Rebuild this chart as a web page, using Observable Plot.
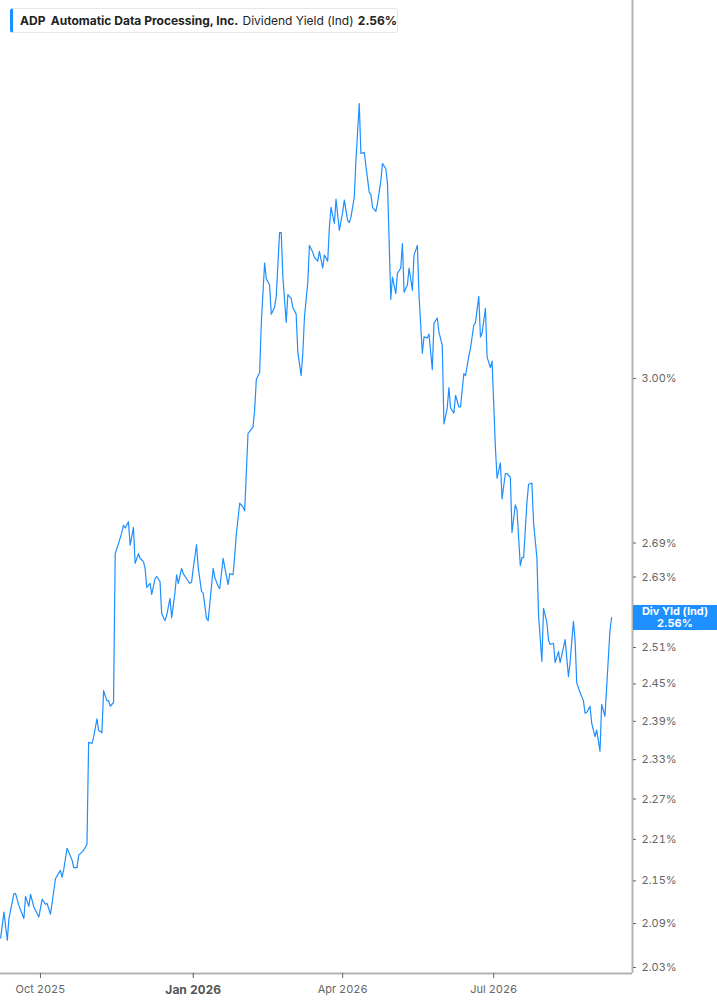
<!DOCTYPE html>
<html>
<head>
<meta charset="utf-8">
<script src="https://cdn.jsdelivr.net/npm/d3@7"></script>
<script src="https://cdn.jsdelivr.net/npm/@observablehq/plot@0.6"></script>
<style>
  html, body { margin: 0; padding: 0; background: #fff; }
  #wrap { position: relative; width: 717px; height: 1005px; overflow: hidden; font-family: Inter, "Noto Sans", sans-serif; }
  #legend { position: absolute; left: 10px; top: 8px; height: 25px; width: 388px; box-sizing: border-box;
    background: #fff; border: 1px solid #e6e6e6; border-left: 3px solid #1e8fff; border-radius: 3px;
    font-size: 12px; color: #222; display: flex; align-items: center; padding-left: 7px; white-space: nowrap; }
  #legend b { font-weight: 700; }
  #legend .gap { display: inline-block; width: 8px; }
  #legend .gap2 { display: inline-block; width: 10px; }
  #tag { position: absolute; left: 633px; width: 84px; height: 25px; background: #1e8fff; color: #fff;
    font-size: 11px; font-weight: 700; line-height: 12px; text-align: center; display: flex; flex-direction: column; justify-content: center; }
</style>
</head>
<body>
<div id="wrap"></div>
<script>
const dates = [
"2025-09-07","2025-09-09","2025-09-11","2025-09-12","2025-09-15","2025-09-16","2025-09-18","2025-09-21","2025-09-22","2025-09-24",
"2025-09-25","2025-09-27","2025-09-30","2025-10-02","2025-10-04","2025-10-05","2025-10-07","2025-10-08","2025-10-10","2025-10-13",
"2025-10-14","2025-10-15","2025-10-17","2025-10-20","2025-10-21","2025-10-23","2025-10-24","2025-10-27","2025-10-29","2025-10-30",
"2025-11-01","2025-11-02","2025-11-04","2025-11-05","2025-11-07","2025-11-08","2025-11-10","2025-11-11","2025-11-12","2025-11-14",
"2025-11-15","2025-11-17","2025-11-19","2025-11-20","2025-11-21","2025-11-23","2025-11-24","2025-11-26","2025-11-27","2025-11-29",
"2025-11-30","2025-12-02","2025-12-03","2025-12-04","2025-12-06","2025-12-07","2025-12-09","2025-12-10","2025-12-12","2025-12-13",
"2025-12-15","2025-12-16","2025-12-18","2025-12-19","2025-12-21","2025-12-22","2025-12-23","2025-12-25","2025-12-26","2025-12-28",
"2025-12-30","2025-12-31","2026-01-01","2026-01-03","2026-01-04","2026-01-06","2026-01-07","2026-01-09","2026-01-10","2026-01-11",
"2026-01-13","2026-01-14","2026-01-16","2026-01-17","2026-01-19","2026-01-20","2026-01-22","2026-01-23","2026-01-25","2026-01-26",
"2026-01-27","2026-01-29","2026-01-31","2026-02-01","2026-02-03","2026-02-04","2026-02-06","2026-02-07","2026-02-08","2026-02-10",
"2026-02-11","2026-02-13","2026-02-14","2026-02-16","2026-02-17","2026-02-19","2026-02-20","2026-02-22","2026-02-23","2026-02-24",
"2026-02-26","2026-02-27","2026-03-01","2026-03-02","2026-03-04","2026-03-05","2026-03-07","2026-03-08","2026-03-09","2026-03-11",
"2026-03-12","2026-03-14","2026-03-15","2026-03-17","2026-03-18","2026-03-20","2026-03-21","2026-03-23","2026-03-24","2026-03-25",
"2026-03-27","2026-03-28","2026-03-30","2026-04-01","2026-04-02","2026-04-04","2026-04-05","2026-04-06","2026-04-08","2026-04-09",
"2026-04-11","2026-04-12","2026-04-14","2026-04-15","2026-04-17","2026-04-18","2026-04-19","2026-04-21","2026-04-22","2026-04-24",
"2026-04-25","2026-04-27","2026-04-28","2026-04-30","2026-05-01","2026-05-03","2026-05-04","2026-05-06","2026-05-07","2026-05-08",
"2026-05-10","2026-05-11","2026-05-13","2026-05-14","2026-05-16","2026-05-17","2026-05-19","2026-05-20","2026-05-22","2026-05-23",
"2026-05-25","2026-05-26","2026-05-28","2026-05-29","2026-05-31","2026-06-01","2026-06-03","2026-06-04","2026-06-05","2026-06-07",
"2026-06-08","2026-06-10","2026-06-11","2026-06-13","2026-06-14","2026-06-16","2026-06-17","2026-06-19","2026-06-20","2026-06-22",
"2026-06-23","2026-06-24","2026-06-26","2026-06-27","2026-06-29","2026-06-30","2026-07-02","2026-07-03","2026-07-05","2026-07-06",
"2026-07-08","2026-07-09","2026-07-11","2026-07-12","2026-07-14","2026-07-15","2026-07-17","2026-07-18","2026-07-19","2026-07-21",
"2026-07-22","2026-07-24","2026-07-25","2026-07-27","2026-07-28","2026-07-30","2026-07-31","2026-08-02","2026-08-03","2026-08-04",
"2026-08-06","2026-08-07","2026-08-09","2026-08-10","2026-08-12","2026-08-13","2026-08-15","2026-08-16","2026-08-18","2026-08-19",
"2026-08-20","2026-08-22","2026-08-24","2026-08-25","2026-08-26","2026-08-28","2026-08-29","2026-08-31","2026-09-01","2026-09-03",
"2026-09-04","2026-09-06","2026-09-07","2026-09-09","2026-09-10"
];
const yields = [
2.070,2.106,2.067,2.097,2.132,2.132,2.115,2.097,2.128,2.114,
2.131,2.113,2.099,2.124,2.117,2.118,2.103,2.118,2.153,2.165,
2.155,2.166,2.197,2.180,2.169,2.169,2.187,2.194,2.203,2.357,
2.355,2.365,2.394,2.376,2.372,2.439,2.423,2.423,2.414,2.420,
2.671,2.689,2.709,2.722,2.717,2.728,2.686,2.718,2.654,2.671,
2.663,2.657,2.645,2.612,2.619,2.600,2.627,2.631,2.622,2.567,
2.555,2.564,2.593,2.560,2.603,2.634,2.619,2.645,2.636,2.627,
2.619,2.621,2.645,2.687,2.647,2.605,2.602,2.559,2.555,2.584,
2.645,2.629,2.614,2.610,2.663,2.647,2.617,2.636,2.634,2.668,
2.707,2.762,2.755,2.748,2.893,2.897,2.905,2.938,2.998,3.012,
3.112,3.239,3.206,3.192,3.131,3.145,3.168,3.305,3.305,3.209,
3.114,3.172,3.164,3.145,3.131,3.053,3.006,3.051,3.125,3.198,
3.277,3.262,3.251,3.243,3.264,3.228,3.256,3.243,3.316,3.361,
3.325,3.379,3.310,3.350,3.377,3.332,3.327,3.339,3.383,3.467,
3.600,3.483,3.486,3.455,3.395,3.390,3.361,3.352,3.370,3.421,
3.460,3.448,3.415,3.162,3.209,3.174,3.217,3.228,3.281,3.177,
3.192,3.228,3.181,3.256,3.277,3.170,3.051,3.084,3.082,3.090,
3.018,3.112,3.123,3.094,3.067,2.911,2.942,2.982,2.942,2.932,
2.967,2.944,2.944,3.010,3.006,3.045,3.061,3.108,3.114,3.168,
3.084,3.092,3.143,3.043,3.022,3.035,2.866,2.808,2.837,2.770,
2.817,2.817,2.810,2.709,2.759,2.750,2.650,2.664,2.664,2.764,
2.797,2.799,2.726,2.664,2.564,2.487,2.576,2.552,2.522,2.515,
2.517,2.485,2.503,2.485,2.510,2.523,2.462,2.485,2.554,2.522,
2.452,2.436,2.423,2.403,2.404,2.414,2.387,2.366,2.376,2.343,
2.417,2.398,2.444,2.538,2.560
];
const yTicks = [2.03, 2.09, 2.15, 2.21, 2.27, 2.33, 2.39, 2.45, 2.51, 2.63, 2.69, 3.00];
const xTickDates = ["2025-10-01", "2026-01-01", "2026-04-01", "2026-07-01"];
const xTickLabels = ["Oct 2025", "Jan 2026", "Apr 2026", "Jul 2026"];
const xDomain = ["2025-09-06T22:00:00Z", "2026-09-22T14:00:00Z"];
const yDomain = [2.0219, 3.855];
const lastLabel = "Div Yld (Ind)";

const data = dates.map((d, i) => ({date: new Date(d), value: yields[i]}));
const tickDates = xTickDates.map(d => new Date(d));
const labelOf = new Map(tickDates.map((d, i) => [+d, xTickLabels[i]]));
const yearStart = tickDates.filter(d => d.getUTCMonth() === 0);
const otherTicks = tickDates.filter(d => d.getUTCMonth() !== 0);
const lineColor = "#1e8fff";

const plot = Plot.plot({
  width: 717,
  height: 1005,
  marginLeft: 0,
  marginRight: 85,
  marginTop: 0,
  marginBottom: 32,
  style: {fontFamily: "Inter, 'Noto Sans', sans-serif", background: "transparent", overflow: "visible"},
  x: {type: "utc", domain: xDomain.map(d => new Date(d))},
  y: {type: "log", domain: yDomain},
  marks: [
    Plot.ruleY([yDomain[0]], {stroke: "#b3b3b3", strokeWidth: 2}),
    Plot.ruleX([new Date(xDomain[1])], {stroke: "#b3b3b3", strokeWidth: 2}),
    Plot.axisY(yTicks, {anchor: "right", tickSize: 3, tickPadding: 6, fontSize: 11, color: "#666", label: null,
      tickFormat: d => d.toFixed(2) + "%"}),
    Plot.axisX(otherTicks, {anchor: "bottom", tickSize: 5, tickPadding: 7, fontSize: 11, color: "#666",
      tickFormat: d => labelOf.get(+d), label: null}),
    Plot.axisX(yearStart, {anchor: "bottom", tickSize: 5, tickPadding: 7, fontSize: 12, fontWeight: "bold", color: "#555",
      tickFormat: d => labelOf.get(+d), label: null}),
    Plot.line(data, {x: "date", y: "value", stroke: lineColor, strokeWidth: 1.2})
  ]
});

const wrap = document.getElementById("wrap");
wrap.appendChild(plot);

const last = data[data.length - 1];
const legend = document.createElement("div");
legend.id = "legend";
legend.innerHTML = `<b>ADP</b><span class="gap2"></span><b>Automatic Data Processing, Inc.</b><span class="gap"></span><span>Dividend Yield (Ind)</span><span class="gap"></span><b>${last.value.toFixed(2)}%</b>`;
wrap.appendChild(legend);

const yScale = plot.scale("y");
const ty = yScale.apply(last.value);
const tag = document.createElement("div");
tag.id = "tag";
tag.style.top = (ty - 12.5) + "px";
tag.innerHTML = `<div>${lastLabel}</div><div>${last.value.toFixed(2)}%</div>`;
wrap.appendChild(tag);
</script>
</body>
</html>
